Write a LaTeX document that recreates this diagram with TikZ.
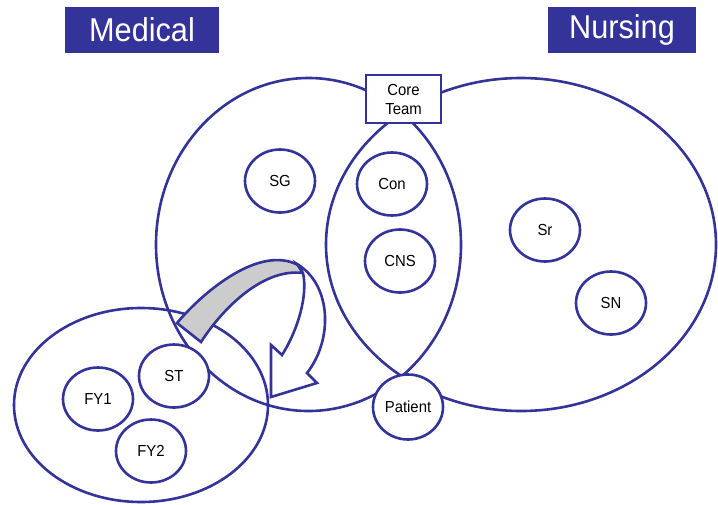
\documentclass[tikz,border=0pt]{standalone}
\usepackage{fontspec}
\setmainfont[FakeStretch=0.93]{Liberation Sans}
\usetikzlibrary{shapes.geometric}
\definecolor{navy}{RGB}{51,51,153}
\definecolor{arrowgray}{RGB}{204,204,204}
\begin{document}
\begin{tikzpicture}[x=1pt,y=-1pt,
  line/.style={draw=navy,line width=2.6pt},
  group/.style={line,ellipse,inner sep=0pt},
  member/.style={line,ellipse,fill=white,inner sep=0pt,minimum width=70pt,minimum height=63pt,font=\fontsize{16}{19}\selectfont},
  titlebox/.style={fill=navy,text=white,minimum height=46pt,inner sep=0pt,font=\fontsize{33}{38}\selectfont},
  arrowpart/.style={line,line join=miter},
]
\useasboundingbox (0,0) rectangle (718,504);
% big groups
\node[group,minimum width=305pt,minimum height=333pt] (medgroup) at (308.5,244.5) {};
\node[group,minimum width=390pt,minimum height=333pt] (nursegroup) at (521,244.5) {};
\node[group,minimum width=254pt,minimum height=194pt] (juniorgroup) at (141,405) {};
% curved block arrow
\draw[arrowpart,fill=arrowgray] (177,323) .. controls (205,290) and (260,245) .. (298,265)
  -- (303,273) .. controls (265,268) and (225,305) .. (201,342) -- cycle;
\draw[arrowpart,fill=white] (297,264) .. controls (332,285) and (333,340) .. (307,373)
  -- (317,383) -- (271,397) -- (271,345) -- (282,355)
  .. controls (298,330) and (308,295) .. (303,273) -- cycle;
% members
\node[member] (sg) at (280,181) {SG};
\node[member] (con) at (392,184) {Con};
\node[member] (cns) at (400,261) {CNS};
\node[member] (sr) at (545,230) {Sr};
\node[member] (sn) at (611,303) {SN};
\node[member] (st) at (174,376) {ST};
\node[member] (fy1) at (98,399) {FY1};
\node[member] (fy2) at (151,451) {FY2};
\node[member,minimum height=65pt] (patient) at (408,407) {Patient};
\node[line,fill=white,rectangle,minimum width=75pt,minimum height=48pt,inner sep=0pt,align=center,
  font=\fontsize{16}{19}\selectfont] (core) at (403.5,99) {Core\\Team};
% titles
\node[titlebox,minimum width=154pt] (medical) at (142,30) {Medical};
\node[titlebox,minimum width=148pt] (nursing) at (622,30) {Nursing};
\end{tikzpicture}
\end{document}
